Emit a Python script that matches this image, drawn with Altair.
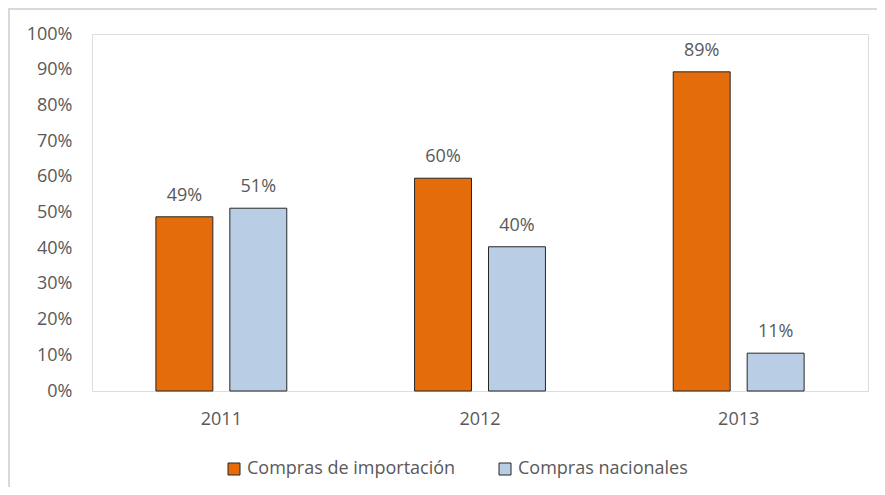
import altair as alt
import pandas as pd

years = ["2011", "2012", "2013"]
series = ["Compras de importación", "Compras nacionales"]
importacion = [0.488, 0.596, 0.894]
nacionales = [0.512, 0.404, 0.106]
colors = ["#E46C0A", "#B9CDE5"]
y_ticks = [0, 0.1, 0.2, 0.3, 0.4, 0.5, 0.6, 0.7, 0.8, 0.9, 1.0]

rows = []
for i, y in enumerate(years):
    rows.append({"year": y, "serie": series[0], "value": importacion[i]})
    rows.append({"year": y, "serie": series[1], "value": nacionales[i]})
df = pd.DataFrame(rows)

FONT = "Open Sans"
GRAY = "#595959"
FS = 18

x = alt.X("year:N", title=None, sort=years,
          scale=alt.Scale(paddingInner=0.494, paddingOuter=0.247),
          axis=alt.Axis(labelAngle=0, ticks=False, domain=False, labelPadding=19,
                        labelFont=FONT, labelFontSize=FS, labelColor=GRAY))
xoff = alt.XOffset("serie:N", sort=series, scale=alt.Scale(paddingInner=0.23, paddingOuter=0))
y = alt.Y("value:Q", title=None,
          scale=alt.Scale(domain=[0, 1], nice=False),
          axis=alt.Axis(format=".0%", values=y_ticks, ticks=False, domain=False, grid=False,
                        labelPadding=20, labelFont=FONT, labelFontSize=FS, labelColor=GRAY))

bars = alt.Chart(df).mark_bar(stroke="#262626", strokeWidth=1).encode(
    x=x, xOffset=xoff, y=y,
    color=alt.Color("serie:N", sort=series, scale=alt.Scale(domain=series, range=colors),
                    legend=alt.Legend(title=None, orient="none", legendX=133, legendY=426,
                                      direction="horizontal", symbolType="square",
                                      symbolSize=144, symbolStrokeColor="#262626",
                                      symbolStrokeWidth=1, labelFont=FONT, labelFontSize=18,
                                      labelColor=GRAY, columnPadding=40, padding=0,
                                      labelOffset=4, labelLimit=0)),
)

labels = alt.Chart(df).mark_text(baseline="alphabetic", dy=-16, font=FONT, fontSize=18, color=GRAY).encode(
    x=x, xOffset=xoff, y=y,
    text=alt.Text("value:Q", format=".0%"),
)

line_df = pd.DataFrame({"k": [0]})
top_line = alt.Chart(line_df).mark_rule(stroke="#D9D9D9", strokeWidth=2).encode(
    x=alt.value(-83), x2=alt.value(800), y=alt.value(-25))
left_line = alt.Chart(line_df).mark_rule(stroke="#D9D9D9", strokeWidth=2).encode(
    x=alt.value(-83), y=alt.value(-26), y2=alt.value(470))

chart = alt.layer(top_line, left_line, bars, labels).properties(
    width=776, height=357,
    autosize=alt.AutoSizeParams(type="none"),
    padding={"left": 84, "top": 26, "right": 9, "bottom": 96},
).configure_view(stroke="#404040", strokeWidth=1.5).configure(background="white")

chart.save("out.html", embed_options={"renderer": "svg", "actions": False})
